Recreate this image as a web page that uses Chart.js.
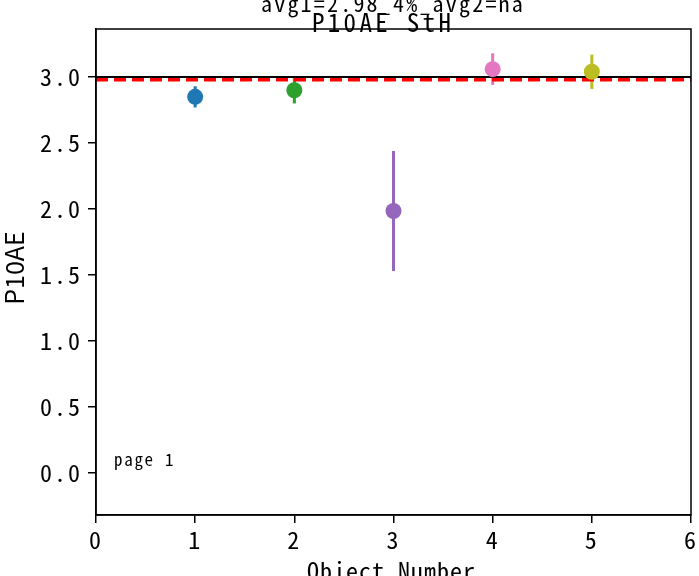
<!DOCTYPE html>
<html><head><meta charset="utf-8">
<script src="https://cdn.jsdelivr.net/npm/chart.js@4/dist/chart.umd.min.js"></script>
<style>html,body{margin:0;padding:0;background:#fff;}#wrap{width:699px;height:576px;}</style>
</head><body><div id="wrap"><canvas id="c" width="699" height="576"></canvas></div>
<script>
const objects = [1, 2, 3, 4, 5];
const values = [2.85, 2.90, 1.985, 3.06, 3.04];
const errors = [0.08, 0.10, 0.455, 0.12, 0.13];
const colors = ['#1f77b4', '#2ca02c', '#9467bd', '#e377c2', '#bcbd22'];
const yTicks = [0.0, 0.5, 1.0, 1.5, 2.0, 2.5, 3.0];
const xTicks = [0, 1, 2, 3, 4, 5, 6];
const refLine = 3.0;
const avg1 = 2.98;
const titleText = 'P10AE StH';
const subTitle = 'avg1=2.98_4%_avg2=na';
const xLabel = 'Object Number';
const yLabel = 'P10AE';
const pageText = 'page 1';
const MONO = '"Noto Sans Mono CJK JP", "Noto Sans CJK JP", monospace';
const SANS = '"Noto Sans CJK JP", sans-serif';

const datasets = objects.map((x, i) => ({
  type: 'scatter',
  data: [{x: x, y: values[i]}],
  backgroundColor: colors[i],
  borderColor: colors[i],
  pointRadius: 8,
  pointHoverRadius: 8,
  borderWidth: 0,
  order: 1
}));
datasets.push({
  type: 'line', data: [{x: 0, y: refLine}, {x: 6, y: refLine}],
  borderColor: '#000', borderWidth: 2, pointRadius: 0, order: 3
});
datasets.push({
  type: 'line', data: [{x: 0, y: avg1}, {x: 6, y: avg1}],
  borderColor: '#ff0000', borderWidth: 3.5, borderDash: [12, 6], pointRadius: 0, order: 2
});

const spacingPlugin = {
  id: 'spacing',
  beforeDraw(chart) { chart.ctx.letterSpacing = '2px'; },
  afterDraw(chart) { chart.ctx.letterSpacing = '0px'; }
};
const errPlugin = {
  id: 'err',
  beforeDatasetsDraw(chart) {
    const ctx = chart.ctx, xs = chart.scales.x, ys = chart.scales.y;
    ctx.save();
    objects.forEach((x, i) => {
      const px = xs.getPixelForValue(x);
      ctx.strokeStyle = colors[i];
      ctx.lineWidth = 3;
      ctx.beginPath();
      ctx.moveTo(px, ys.getPixelForValue(values[i] - errors[i]));
      ctx.lineTo(px, ys.getPixelForValue(values[i] + errors[i]));
      ctx.stroke();
    });
    ctx.restore();
  }
};
const decoPlugin = {
  id: 'deco',
  afterDraw(chart) {
    const ctx = chart.ctx, a = chart.chartArea;
    ctx.save();
    ctx.letterSpacing = '0px';
    ctx.strokeStyle = '#000'; ctx.lineWidth = 1.5;
    ctx.strokeRect(a.left, a.top, a.right - a.left, a.bottom - a.top);
    ctx.fillStyle = '#000';
    ctx.textAlign = 'left';
    ctx.textBaseline = 'alphabetic';
    ctx.font = '22px ' + MONO; ctx.letterSpacing = '2.2px';
    ctx.fillText(subTitle, 261, 12);
    ctx.font = '25px ' + MONO; ctx.letterSpacing = '3.3px';
    ctx.fillText(titleText, 312, 32);
    ctx.font = '24px ' + MONO; ctx.letterSpacing = '1px';
    ctx.fillText(xLabel, 307, 580);
    ctx.font = '17px ' + MONO; ctx.letterSpacing = '1.7px';
    ctx.fillText(pageText, 114, 466);
    ctx.letterSpacing = '0px';
    ctx.font = '25px ' + SANS;
    ctx.textAlign = 'center';
    ctx.textBaseline = 'middle';
    ctx.translate(14, 268);
    ctx.rotate(-Math.PI / 2);
    ctx.fillText(yLabel, 0, 0);
    ctx.restore();
  }
};

new Chart(document.getElementById('c'), {
  data: { datasets },
  plugins: [spacingPlugin, errPlugin, decoPlugin],
  options: {
    responsive: false, animation: false,
    layout: { padding: { left: 0, top: 29, right: 0, bottom: 0 } },
    plugins: { legend: { display: false }, tooltip: { enabled: false } },
    scales: {
      x: {
        type: 'linear', min: 0, max: 6,
        afterBuildTicks: s => { s.ticks = xTicks.map(v => ({value: v})); },
        afterFit: s => { s.height = 61; },
        grid: { display: true, drawOnChartArea: false, drawTicks: true, tickLength: 8, color: '#000', lineWidth: 1.5 },
        border: { display: true, color: '#000', width: 1.5 },
        ticks: { color: '#000', padding: 2, font: { family: MONO, size: 24 }, maxRotation: 0,
                 callback: v => String(v) }
      },
      y: {
        type: 'linear', min: -0.318, max: 3.364,
        afterBuildTicks: s => { s.ticks = yTicks.map(v => ({value: v})); },
        afterFit: s => { s.width = 96; },
        grid: { display: true, drawOnChartArea: false, drawTicks: true, tickLength: 8, color: '#000', lineWidth: 1.5 },
        border: { display: true, color: '#000', width: 1.5 },
        ticks: { color: '#000', padding: 6, font: { family: MONO, size: 24 },
                 callback: v => v.toFixed(1) }
      }
    }
  }
});
</script></body></html>
